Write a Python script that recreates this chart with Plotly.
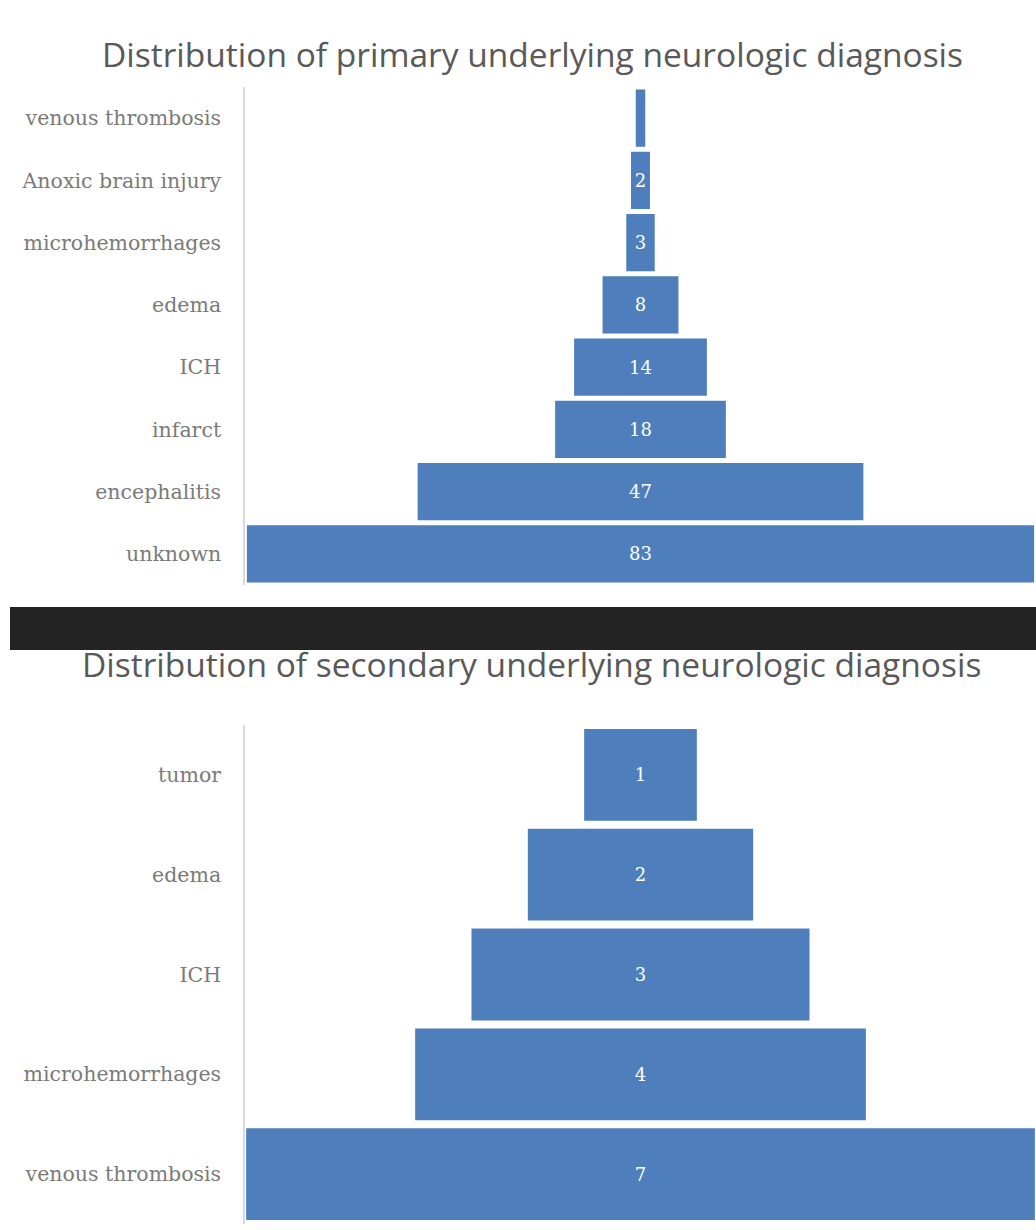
import plotly.graph_objects as go

# Primary diagnoses (top funnel), listed top to bottom
primary_labels = ["venous thrombosis", "Anoxic brain injury", "microhemorrhages",
                  "edema", "ICH", "infarct", "encephalitis", "unknown"]
primary_counts = [1, 2, 3, 8, 14, 18, 47, 83]

# Secondary diagnoses (bottom funnel), listed top to bottom
secondary_labels = ["tumor", "edema", "ICH", "microhemorrhages", "venous thrombosis"]
secondary_counts = [1, 2, 3, 4, 7]

primary_title = "Distribution of primary underlying neurologic diagnosis"
secondary_title = "Distribution of secondary underlying neurologic diagnosis"

W, H = 1036, 1230
BAR = "#4e7fbc"
GREY = "#595959"
LABEL_FONT = dict(family="DejaVu Serif", size=20.5, color="#7a7a7a")
VALUE_FONT = dict(family="DejaVu Serif", size=18, color="white")
TITLE_FONT = dict(family="Open Sans", size=33.5, color=GREY)


def py(px):
    """Convert a pixel row to paper y."""
    return 1 - px / H


fig = go.Figure()

fig.add_trace(go.Funnel(
    y=primary_labels, x=primary_counts,
    xaxis="x", yaxis="y",
    marker=dict(color=BAR, line=dict(width=0)),
    textinfo="value", textposition="inside", insidetextanchor="middle",
    textfont=VALUE_FONT,
    connector=dict(visible=False),
    hoverinfo="y+x",
))

fig.add_trace(go.Funnel(
    y=secondary_labels, x=secondary_counts,
    xaxis="x2", yaxis="y2",
    marker=dict(color=BAR, line=dict(width=0)),
    textinfo="value", textposition="inside", insidetextanchor="middle",
    textfont=VALUE_FONT,
    connector=dict(visible=False),
    hoverinfo="y+x",
))

x_dom = [245 / W, 1.0]
yaxis_common = dict(
    showline=True, linecolor="#d9d9d9", linewidth=1.5,
    showgrid=False, zeroline=False, ticks="",
    tickfont=LABEL_FONT, ticklabelstandoff=18, fixedrange=True,
)
xaxis_common = dict(visible=False, showgrid=False, zeroline=False, fixedrange=True)

pmax = max(primary_counts)
smax = max(secondary_counts)

fig.update_layout(
    width=W, height=H,
    margin=dict(l=0, r=0, t=0, b=0),
    paper_bgcolor="white", plot_bgcolor="white",
    showlegend=False,
    funnelgap=0.08,
    uniformtext=dict(minsize=18, mode="hide"),
    xaxis=dict(domain=x_dom, anchor="y", range=[-pmax / 2 - 0.2, pmax / 2 + 0.2], **xaxis_common),
    yaxis=dict(domain=[py(585), py(87)], anchor="x", **yaxis_common),
    xaxis2=dict(domain=x_dom, anchor="y2", range=[-smax / 2 - 0.01, smax / 2 + 0.01], **xaxis_common),
    yaxis2=dict(domain=[py(1224), py(725)], anchor="x2", **yaxis_common),
    annotations=[
        dict(text=primary_title, x=532 / W, y=py(54), xref="paper", yref="paper",
             xanchor="center", yanchor="middle", showarrow=False, font=TITLE_FONT),
        dict(text=secondary_title, x=531 / W, y=py(664), xref="paper", yref="paper",
             xanchor="center", yanchor="middle", showarrow=False, font=TITLE_FONT),
    ],
    shapes=[
        dict(type="rect", xref="paper", yref="paper",
             x0=10 / W, x1=1.0, y0=py(650), y1=py(607),
             fillcolor="#232323", line=dict(width=0), layer="above"),
    ],
)

fig.write_html("out.html")
